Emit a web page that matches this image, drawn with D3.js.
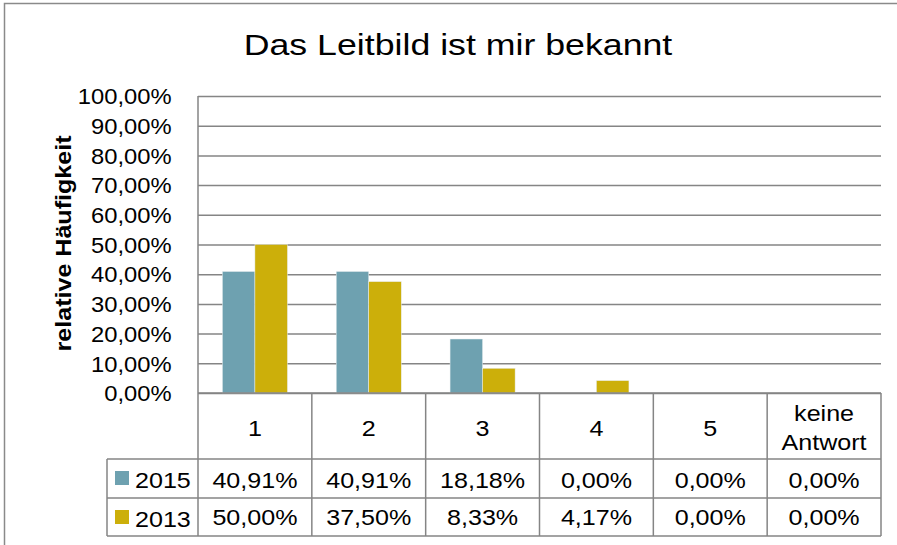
<!DOCTYPE html>
<html>
<head>
<meta charset="utf-8">
<script src="https://cdn.jsdelivr.net/npm/d3@7"></script>
<style>
  body { margin: 0; background: #fff; }
  text { font-family: "Liberation Sans", Arial, Helvetica, sans-serif; fill: #000; }
</style>
</head>
<body>
<div id="chart"></div>
<script>
// data
var categories = ["1", "2", "3", "4", "5", "keine Antwort"];
var seriesNames = ["2015", "2013"];
var values2015 = [0.4091, 0.4091, 0.1818, 0, 0, 0];
var values2013 = [0.5, 0.375, 0.0833, 0.0417, 0, 0];
var yTicks = [0, 0.1, 0.2, 0.3, 0.4, 0.5, 0.6, 0.7, 0.8, 0.9, 1];
var seriesColors = ["#6ea1b0", "#ccaf0a"];

function init(){
    var w = 897;
    var h = 545;
    var left = 198, right = 881, top = 96, bottom = 393;
    var rowTop2015 = 459, rowTop2013 = 498, tableBottom = 536, legendLeft = 107;
    var lineColor = "#858585";

    var de = d3.formatLocale({decimal: ",", thousands: ".", grouping: [3], currency: ["", " €"]});
    var pct = de.format(".2%");

    var svg = d3.select("#chart")
                .append("svg")
                .attr("width", w)
                .attr("height", h);

    // outer frame
    svg.append("rect")
        .attr("x", 4.5).attr("y", 3.5)
        .attr("width", w + 10).attr("height", h + 10)
        .attr("fill", "none")
        .attr("stroke", "#8a8a8a")
        .attr("stroke-width", 1.5);

    var x0 = d3.scaleBand()
                .domain(categories)
                .range([left, right])
                .padding(0);
    var x1 = d3.scaleBand()
                .domain(seriesNames)
                .range([0, x0.bandwidth()])
                .paddingInner(0)
                .paddingOuter(0.75);
    var y = d3.scaleLinear()
                .domain([0, 1])
                .range([bottom, top]);

    var data = categories.map(function(c, i){
        return {cat: c, vals: [
            {s: "2015", v: values2015[i]},
            {s: "2013", v: values2013[i]}
        ]};
    });
    var color = d3.scaleOrdinal().domain(seriesNames).range(seriesColors);

    // grid lines
    var grid = svg.append("g")
        .attr("transform", "translate(" + left + ",0)")
        .call(d3.axisLeft(y).tickValues(yTicks).tickSize(-(right - left)).tickFormat(""));
    grid.select(".domain").remove();
    grid.selectAll("line")
        .attr("stroke", lineColor)
        .attr("stroke-width", 1.5);

    // y tick labels
    var sx = 1.08;
    var yAxis = svg.append("g")
        .attr("transform", "translate(" + left + ",0)")
        .call(d3.axisLeft(y).tickValues(yTicks).tickSize(0).tickFormat(pct));
    yAxis.select(".domain").remove();
    yAxis.selectAll("text")
        .attr("x", -26.5 / sx)
        .attr("dy", "0.35em")
        .attr("transform", "scale(" + sx + ",1)")
        .style("font-size", "22px")
        .style("font-family", "'Liberation Sans', Arial, sans-serif")
        .attr("fill", "#000");

    // bars
    svg.selectAll("g.cat")
        .data(data)
        .enter()
        .append("g")
        .attr("class", "cat")
        .attr("transform", function(d){ return "translate(" + x0(d.cat) + ",0)"; })
        .selectAll("rect")
        .data(function(d){ return d.vals; })
        .enter()
        .append("rect")
        .attr("x", function(d){ return x1(d.s); })
        .attr("y", function(d){ return y(d.v); })
        .attr("width", x1.bandwidth())
        .attr("height", function(d){ return bottom - y(d.v); })
        .attr("fill", function(d){ return color(d.s); })
        .attr("stroke", "#e8eef0")
        .attr("stroke-width", 0.5);

    // data table lines
    var lines = svg.append("g")
        .attr("stroke", lineColor)
        .attr("stroke-width", 1.5);
    // left axis line, from top of plot to table bottom
    lines.append("line").attr("x1", left).attr("x2", left).attr("y1", top).attr("y2", tableBottom);
    lines.append("line").attr("x1", left).attr("x2", right).attr("y1", bottom).attr("y2", bottom);
    [rowTop2015, rowTop2013, tableBottom].forEach(function(yy){
        lines.append("line").attr("x1", legendLeft).attr("x2", right).attr("y1", yy).attr("y2", yy);
    });
    lines.append("line").attr("x1", legendLeft).attr("x2", legendLeft).attr("y1", rowTop2015).attr("y2", tableBottom);
    lines.selectAll("line.col")
        .data(categories)
        .enter()
        .append("line")
        .attr("class", "col")
        .attr("x1", function(d){ return x0(d) + x0.bandwidth(); })
        .attr("x2", function(d){ return x0(d) + x0.bandwidth(); })
        .attr("y1", bottom)
        .attr("y2", tableBottom);

    var ts = 1.14;
    function cellText(g, xx, yy, txt){
        g.append("text")
            .attr("transform", "translate(" + xx + "," + yy + ") scale(" + ts + ",1)")
            .attr("text-anchor", "middle")
            .style("font-size", "22px")
            .text(txt);
    }

    // category labels
    var catG = svg.append("g");
    categories.forEach(function(c){
        var cx = x0(c) + x0.bandwidth() / 2;
        var words = c.split(" ");
        if (words.length == 1) {
            cellText(catG, cx, 436, c);
        } else {
            cellText(catG, cx, 420.5, words[0]);
            cellText(catG, cx, 450, words[1]);
        }
    });

    // values in table
    var valG = svg.append("g");
    categories.forEach(function(c, i){
        var cx = x0(c) + x0.bandwidth() / 2;
        cellText(valG, cx, 488, pct(values2015[i]));
        cellText(valG, cx, 525, pct(values2013[i]));
    });

    // legend keys in table
    var legRows = [{s: "2015", y: rowTop2015}, {s: "2013", y: rowTop2013}];
    legRows.forEach(function(r){
        svg.append("rect")
            .attr("x", 115)
            .attr("y", r.y + 12)
            .attr("width", 14)
            .attr("height", 14)
            .attr("fill", color(r.s));
        svg.append("text")
            .attr("transform", "translate(135," + (r.y + 28.5) + ") scale(" + ts + ",1)")
            .style("font-size", "22px")
            .text(r.s);
    });

    // title
    svg.append("text")
        .attr("transform", "translate(458,54.5) scale(1.19,1)")
        .attr("text-anchor", "middle")
        .style("font-size", "30px")
        .text("Das Leitbild ist mir bekannt");

    // y axis title
    svg.append("text")
        .attr("transform", "translate(70.5,243.5) rotate(-90) scale(1.14,1)")
        .attr("text-anchor", "middle")
        .style("font-size", "22px")
        .style("font-weight", "bold")
        .text("relative Häufigkeit");
}
window.onload = init;
</script>
</body>
</html>
